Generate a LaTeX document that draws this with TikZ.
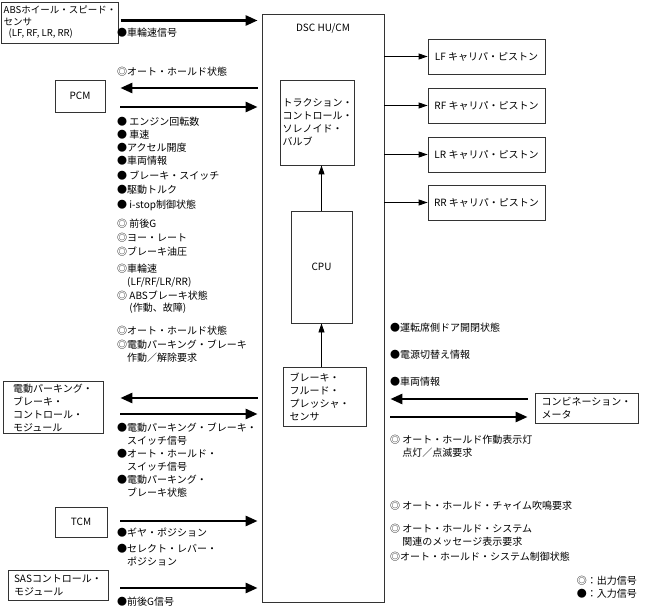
\documentclass[tikz,border=0pt]{standalone}
\usepackage{fontspec}
\setmainfont{Noto Sans CJK JP}
\usetikzlibrary{arrows.meta,positioning}
\tikzset{
  every picture/.style = {
    x = 1pt,
    y = -1pt,
    font = \fontsize{10}{13}\selectfont,
  }
  ,
  unit/.style = {
    rectangle,
    draw = black!80,
    line width = 0.8pt,
    inner sep = 2pt,
    align = left
  }
  , % wide arrows between units and the DSC HU/CM
  signal/.style = {
    line width = 2.6pt,
    -{Triangle[length=12pt,width=10pt]},
    shorten >= 4pt
  }
  , % thin arrows
  feed/.style = {
    line width = 0.8pt,
    -{Triangle[length=9pt,width=6pt]}
  }
  , % signal texts (base = last line)
  sig/.style = {
    anchor = base west,
    align = left,
    inner sep = 0pt
  }
}
\begin{document}
\begin{tikzpicture}
  \useasboundingbox (0,0) rectangle (646,607);
  % units
  \node[unit, minimum width=116, minimum height=41, font=\fontsize{9.5}{11.5}\selectfont] at (60,22.5) (abs) {ABSホイール・スピード・\\センサ\\\hspace{5pt}(LF, RF, LR, RR)};
  \node[unit, minimum width=50, minimum height=32] at (80,96) (pcm) {PCM};
  \node[unit, minimum width=100, minimum height=51] at (53,407.5) (epb) {電動パーキング・\\ブレーキ・\\コントロール・\\モジュール};
  \node[unit, minimum width=52, minimum height=30] at (81,522) (tcm) {TCM};
  \node[unit, minimum width=100, minimum height=30] at (58,585) (sas) {SASコントロール・\\モジュール};
  \node[unit, minimum width=103, minimum height=30] at (586.5,408) (meter) {コンビネーション・\\メータ};
  % DSC HU/CM and its parts
  \node[unit, minimum width=122, minimum height=588] at (323,308) (dsc) {};
  \node[below = 6pt of dsc.north] (dsclabel) {DSC HU/CM};
  \node[unit, minimum width=69, minimum height=85] at (317.5,122.5) (tcs) {トラクション・\\コントロール・\\ソレノイド・\\バルブ};
  \node[unit, minimum width=61, minimum height=112] at (321.5,267) (cpu) {CPU};
  \node[unit, minimum width=83, minimum height=59, text width=70] at (324.5,396.5) (sensor) {ブレーキ・\\フルード・\\プレッシャ・\\センサ};
  \node[unit, minimum width=117, minimum height=35] at (486.5,56.5) (lf) {LF キャリパ・ピストン};
  \node[unit, minimum width=117, minimum height=35] at (486.5,105.5) (rf) {RF キャリパ・ピストン};
  \node[unit, minimum width=117, minimum height=35] at (486.5,154.5) (lr) {LR キャリパ・ピストン};
  \node[unit, minimum width=117, minimum height=35] at (486.5,202.5) (rr) {RR キャリパ・ピストン};
  % connectors
  \draw[signal, shorten <=2pt] ([yshift=2pt]abs.east) -- ([yshift=2pt]abs.east -| dsc.west);
  \draw[signal, shorten <=4pt, shorten >=15pt] ([yshift=8pt]pcm.east -| dsc.west) -- ([yshift=8pt]pcm.east);
  \draw[signal, shorten <=15pt] ([yshift=-11pt]pcm.east) -- ([yshift=-11pt]pcm.east -| dsc.west);
  \draw[signal, shorten <=4pt, shorten >=17pt] ([yshift=9.5pt]epb.east -| dsc.west) -- ([yshift=9.5pt]epb.east);
  \draw[signal, shorten <=17pt] ([yshift=-6.5pt]epb.east) -- ([yshift=-6.5pt]epb.east -| dsc.west);
  \draw[signal, shorten <=13pt] ([yshift=1pt]tcm.east) -- ([yshift=1pt]tcm.east -| dsc.west);
  \draw[signal, shorten <=12pt] ([yshift=-3pt]sas.east) -- ([yshift=-3pt]sas.east -| dsc.west);
  \draw[signal, shorten <=7pt, shorten >=6pt] ([yshift=9pt]meter.west) -- ([yshift=9pt]meter.west -| dsc.east);
  \draw[signal, shorten <=6pt, shorten >=7pt] ([yshift=-9pt]meter.west -| dsc.east) -- ([yshift=-9pt]meter.west);
  \draw[feed] (lf.west -| dsc.east) -- (lf.west);
  \draw[feed] (rf.west -| dsc.east) -- (rf.west);
  \draw[feed] (lr.west -| dsc.east) -- (lr.west);
  \draw[feed] (rr.west -| dsc.east) -- (rr.west);
  \draw[feed] (sensor.north -| cpu.south) -- (cpu.south);
  \draw[feed] (cpu.north) -- (cpu.north |- tcs.south);
  % signals, left side
  \node[sig] at (117,37) (wheelspeed) {●車輪速信号};
  \node[sig] at (117,76) (pcmout) {◎オート・ホールド状態};
  \node[sig] at (117,126) (rpm) {● エンジン回転数};
  \node[sig] at (117,139) (speed) {● 車速};
  \node[sig] at (117,152) (accel) {●アクセル開度};
  \node[sig] at (117,165) (vehinfo) {●車両情報};
  \node[sig] at (117,180) (brakesw) {● ブレーキ・スイッチ};
  \node[sig] at (117,194) (torque) {●駆動トルク};
  \node[sig] at (117,209) (istop) {● i-stop制御状態};
  \node[sig] at (117,228) (longg) {◎ 前後G};
  \node[sig] at (117,242) (yaw) {◎ヨー・レート};
  \node[sig] at (117,255) (pressure) {◎ブレーキ油圧};
  \node[sig] at (117,285) (wheelout) {◎車輪速\\\phantom{◎}(LF/RF/LR/RR)};
  \node[sig] at (117,312) (absstate) {◎ ABSブレーキ状態\\\phantom{◎ }(作動、故障)};
  \node[sig] at (117,334) (holdstate) {◎オート・ホールド状態};
  \node[sig] at (117,361) (epbreq) {◎電動パーキング・ブレーキ\\\phantom{◎}作動／解除要求};
  \node[sig] at (117,444) (epbsw) {●電動パーキング・ブレーキ・\\\phantom{●}スイッチ信号};
  \node[sig] at (117,470) (holdsw) {●オート・ホールド・\\\phantom{●}スイッチ信号};
  \node[sig] at (117,496) (epbstate) {●電動パーキング・\\\phantom{●}ブレーキ状態};
  \node[sig] at (117,536) (gear) {●ギヤ・ポジション};
  \node[sig] at (117,565) (lever) {●セレクト・レバー・\\\phantom{●}ポジション};
  \node[sig] at (117,605) (longgin) {●前後G信号};
  % signals, right side
  \node[sig] at (390,331) (door) {●運転席側ドア開閉状態};
  \node[sig] at (390,358) (power) {●電源切替え情報};
  \node[sig] at (390,385) (vehinfo2) {●車両情報};
  \node[sig] at (390,456) (lamp) {◎ オート・ホールド作動表示灯\\\phantom{◎ }点灯／点滅要求};
  \node[sig] at (390,509) (chime) {◎ オート・ホールド・チャイム吹鳴要求};
  \node[sig] at (390,545) (message) {◎ オート・ホールド・システム\\\phantom{◎ }関連のメッセージ表示要求};
  \node[sig] at (390,560) (sysstate) {◎オート・ホールド・システム制御状態};
  % legend
  \node[sig, anchor=base east] at (637,584) (outkey) {◎：出力信号};
  \node[sig, anchor=base east] at (637,597) (inkey) {●：入力信号};
\end{tikzpicture}
\end{document}
